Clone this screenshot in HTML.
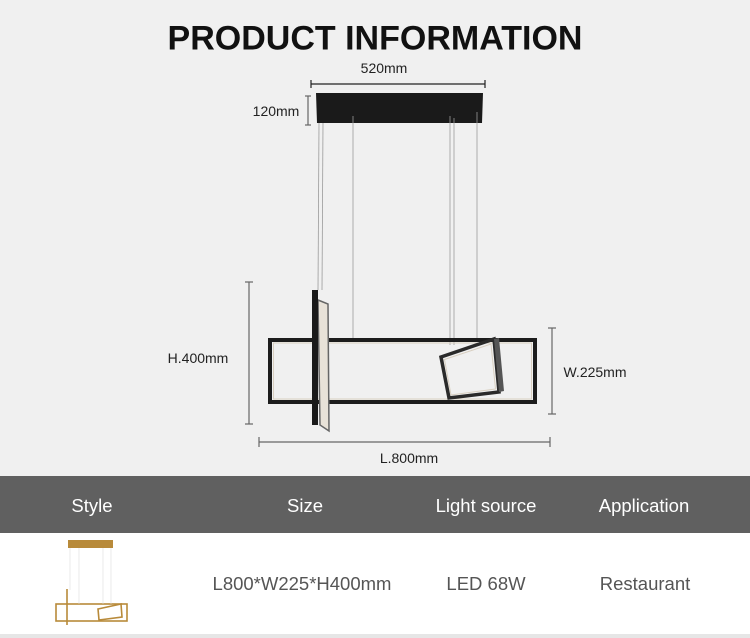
<!DOCTYPE html>
<html><head><meta charset="utf-8"><style>
html,body{margin:0;padding:0}
body{width:750px;height:638px;background:#f0f0f0;position:relative;overflow:hidden;font-family:"Liberation Sans",sans-serif}
.t{position:absolute;white-space:nowrap;transform:translate(-50%,-50%)}
</style></head><body>
<svg width="750" height="638" style="position:absolute;left:0;top:0">
<rect x="0" y="476" width="750" height="57" fill="#606060"/>
<rect x="0" y="533" width="750" height="101" fill="#ffffff"/>
<rect x="0" y="634" width="750" height="4" fill="#e6e6e6"/>
<g stroke="#222" stroke-width="1.2">
<line x1="311" y1="84" x2="485" y2="84"/><line x1="311" y1="80" x2="311" y2="88"/><line x1="485" y1="80" x2="485" y2="88"/>
</g>
<g stroke="#666" stroke-width="1.2">
<line x1="308" y1="96" x2="308" y2="125"/><line x1="305" y1="96" x2="311" y2="96"/><line x1="305" y1="125" x2="311" y2="125"/>
<line x1="249" y1="282" x2="249" y2="424"/><line x1="245" y1="282" x2="253" y2="282"/><line x1="245" y1="424" x2="253" y2="424"/>
<line x1="552" y1="328" x2="552" y2="414"/><line x1="548" y1="328" x2="556" y2="328"/><line x1="548" y1="414" x2="556" y2="414"/>
<line x1="259" y1="442" x2="550" y2="442"/><line x1="259" y1="437" x2="259" y2="447"/><line x1="550" y1="437" x2="550" y2="447"/>
</g>
<polygon points="316,93 483,93 482,123 317,123" fill="#1a1a1a"/>
<g stroke="#9a9a9a" stroke-width="0.8">
<line x1="319" y1="123" x2="318" y2="290"/><line x1="323" y1="123" x2="322" y2="290"/>
<line x1="353" y1="116" x2="353" y2="338"/>
<line x1="450" y1="116" x2="450" y2="345"/><line x1="454" y1="118" x2="454" y2="345"/>
<line x1="477" y1="112" x2="477" y2="338"/>
</g>
<rect x="270" y="340" width="265" height="62" fill="none" stroke="#1c1c1c" stroke-width="4"/>
<rect x="273.5" y="343" width="258" height="56" fill="none" stroke="#d8cfc0" stroke-width="1"/>
<polygon points="318,300 328,304 329,431 320,425" fill="#e8e2d8" stroke="#666" stroke-width="1.5"/>
<rect x="312" y="290" width="6" height="135" fill="#1a1a1a"/>
<polygon points="441,357 494,339 499,392 449,398" fill="none" stroke="#2a2a2a" stroke-width="3.5"/>
<polygon points="444.5,359.5 491,344 495.5,389 451,395" fill="none" stroke="#d8cfc0" stroke-width="1"/>
<polygon points="494,339 499,338 504,391 499,392" fill="#555"/>
<g fill="none" stroke="#b88a3a" stroke-width="1.6">
<rect x="56" y="604" width="71" height="17"/>
<polygon points="98,609 121,604 122,617 99,620"/>
<line x1="67" y1="589" x2="67" y2="625"/>
</g>
<rect x="68" y="540" width="45" height="8" fill="#b88a3a"/>
<g stroke="#ddd" stroke-width="0.6"><line x1="70" y1="548" x2="70" y2="590"/><line x1="79" y1="548" x2="79" y2="604"/><line x1="103" y1="548" x2="103" y2="604"/><line x1="111" y1="548" x2="111" y2="604"/></g>
</svg>
<div class="t" style="left:375px;top:39px;font-size:34px;font-weight:bold;color:#111">PRODUCT INFORMATION</div>
<div class="t" style="left:384px;top:68px;font-size:14px;color:#222">520mm</div>
<div class="t" style="left:276px;top:111px;font-size:14px;color:#222">120mm</div>
<div class="t" style="left:198px;top:358px;font-size:14px;color:#222">H.400mm</div>
<div class="t" style="left:595px;top:372px;font-size:14px;color:#222">W.225mm</div>
<div class="t" style="left:409px;top:458px;font-size:14px;color:#222">L.800mm</div>
<div class="t" style="left:92px;top:506px;font-size:18.5px;color:#fff">Style</div>
<div class="t" style="left:305px;top:506px;font-size:18.5px;color:#fff">Size</div>
<div class="t" style="left:486px;top:506px;font-size:18.5px;color:#fff">Light source</div>
<div class="t" style="left:644px;top:506px;font-size:18.5px;color:#fff">Application</div>
<div class="t" style="left:302px;top:584px;font-size:18.5px;color:#555">L800*W225*H400mm</div>
<div class="t" style="left:486px;top:584px;font-size:18.5px;color:#555">LED 68W</div>
<div class="t" style="left:645px;top:584px;font-size:18.5px;color:#555">Restaurant</div>
</body></html>
